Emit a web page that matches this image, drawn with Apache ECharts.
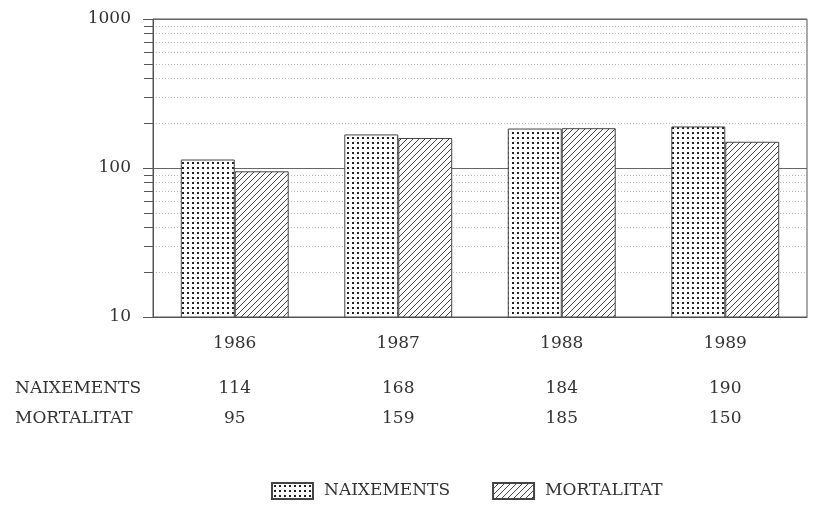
<!DOCTYPE html>
<html>
<head>
<meta charset="utf-8">
<script src="https://cdn.jsdelivr.net/npm/echarts@6/dist/echarts.min.js"></script>
<style>
  * { margin: 0; padding: 0; }
  body { background: #fff; }
  #chart { width: 823px; height: 507px; }
</style>
</head>
<body>
<div id="chart"></div>
<script>
var years = ["1986", "1987", "1988", "1989"];
var naixements = [114, 168, 184, 190];
var mortalitat = [95, 159, 185, 150];
var yLabels = [10, 100, 1000];

var serif = "DejaVu Serif";
var ink = "#333";

// trama de punts
function dotPattern() {
  var c = document.createElement("canvas");
  c.width = 5; c.height = 5;
  var g = c.getContext("2d");
  g.fillStyle = "#fff";
  g.fillRect(0, 0, 5, 5);
  g.fillStyle = "#222";
  g.fillRect(2, 2, 2, 2);
  return c;
}
// trama de ratlles
function hatchPattern() {
  var c = document.createElement("canvas");
  c.width = 6; c.height = 6;
  var g = c.getContext("2d");
  g.fillStyle = "#fff";
  g.fillRect(0, 0, 6, 6);
  g.strokeStyle = "#444";
  g.lineWidth = 1;
  g.beginPath();
  g.moveTo(-1, 7); g.lineTo(7, -1);
  g.moveTo(-1, 1); g.lineTo(1, -1);
  g.moveTo(5, 7); g.lineTo(7, 5);
  g.stroke();
  return c;
}

var chart = echarts.init(document.getElementById("chart"));

var valueAxis = function (data, offset) {
  return {
    type: "category",
    data: data,
    position: "bottom",
    offset: offset,
    axisLine: { show: false },
    axisTick: { show: false },
    axisLabel: { margin: 0, color: ink, fontFamily: serif, fontSize: 17 }
  };
};

var option = {
  animation: false,
  grid: {
    left: 153, right: 16, top: 19, bottom: 190,
    show: true, borderColor: "#555", borderWidth: 1
  },
  legend: {
    left: 271, top: 482, padding: 0,
    icon: "rect",
    itemWidth: 41, itemHeight: 16, itemGap: 42,
    textStyle: { color: ink, fontFamily: serif, fontSize: 17, padding: [0, 0, 0, 6] },
    data: ["NAIXEMENTS", "MORTALITAT"]
  },
  graphic: [
    { type: "text", left: 15, top: 380, style: { text: "NAIXEMENTS", fill: ink, font: "17px '" + serif + "'" } },
    { type: "text", left: 15, top: 410, style: { text: "MORTALITAT", fill: ink, font: "17px '" + serif + "'" } }
  ],
  xAxis: [
    {
      type: "category",
      data: years,
      axisLine: { lineStyle: { color: "#555" } },
      axisTick: { alignWithLabel: true, length: 8, lineStyle: { color: "#555" } },
      axisLabel: { margin: 18, color: ink, fontFamily: serif, fontSize: 17 }
    },
    valueAxis(naixements, 63),
    valueAxis(mortalitat, 93)
  ],
  yAxis: {
    type: "log",
    logBase: 10,
    min: 10,
    max: 1000,
    axisLine: { show: true, lineStyle: { color: "#555" } },
    axisTick: { show: true, length: 10, lineStyle: { color: "#555" } },
    minorTick: { show: true, splitNumber: 9, length: 9, lineStyle: { color: "#555" } },
    splitLine: { show: true, lineStyle: { color: "#666" } },
    minorSplitLine: { show: true, lineStyle: { color: "#bbb", type: [1, 2] } },
    axisLabel: {
      margin: 22, color: ink, fontFamily: serif, fontSize: 17,
      formatter: function (v) { return yLabels.indexOf(v) >= 0 ? String(v) : ""; }
    }
  },
  series: [
    {
      name: "NAIXEMENTS",
      type: "bar",
      data: naixements,
      barGap: "0%",
      barCategoryGap: "34%",
      itemStyle: { color: { image: dotPattern(), repeat: "repeat" }, borderColor: "#444", borderWidth: 1 }
    },
    {
      name: "MORTALITAT",
      type: "bar",
      data: mortalitat,
      itemStyle: { color: { image: hatchPattern(), repeat: "repeat" }, borderColor: "#444", borderWidth: 1 }
    }
  ]
};
chart.setOption(option);
</script>
</body>
</html>
